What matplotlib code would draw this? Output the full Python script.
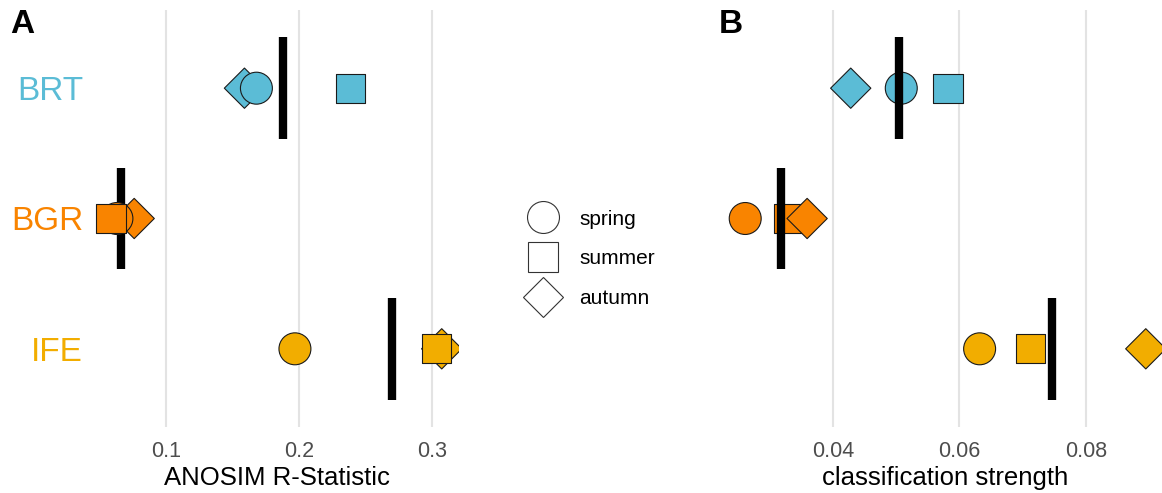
import matplotlib
matplotlib.use('Agg')
import matplotlib.pyplot as plt
from matplotlib.lines import Line2D

plt.rcParams['font.family'] = ['Liberation Sans', 'DejaVu Sans']

# Data lest av fra figuren
sites = ['BRT', 'BGR', 'IFE']
site_colors = ['#5BBCD6', '#F98400', '#F2AD00']
seasons = ['spring', 'summer', 'autumn']

anosim_spring = [0.168, 0.063, 0.197]
anosim_summer = [0.239, 0.0586, 0.3035]
anosim_autumn = [0.159, 0.076, 0.3075]
anosim_all = [0.188, 0.0657, 0.2697]

cs_spring = [0.0508, 0.0261, 0.0632]
cs_summer = [0.0582, 0.0330, 0.0713]
cs_autumn = [0.0428, 0.0359, 0.0895]
cs_all = [0.0505, 0.0317, 0.0747]

W, H = 1162, 493
fig = plt.figure(figsize=(W / 100, H / 100), dpi=100)

# akser i pikselkoordinater
axA = fig.add_axes([95 / W, (H - 427) / H, 364 / W, 417 / H])
axB = fig.add_axes([725 / W, (H - 427) / H, 441 / W, 417 / H])

ypos = [1, 2, 3]
marker_kw = dict(edgecolors='#1a1a1a', linewidths=0.8)
s_circle = 23 ** 2
s_square = 21 ** 2
s_diamond = 20.5 ** 2


def style_axis(ax, xlim, ticks, ticklabels, xlabel):
    ax.set_xlim(*xlim)
    ax.set_ylim(3.6, 0.4)
    ax.set_xticks(ticks)
    ax.set_xticklabels(ticklabels)
    ax.tick_params(axis='x', length=0, pad=10, labelsize=15.5, labelcolor='#4D4D4D')
    ax.tick_params(axis='y', length=0)
    for sp in ax.spines.values():
        sp.set_visible(False)
    ax.grid(axis='x', color='#E3E3E3', linewidth=1.5, zorder=0)
    ax.set_axisbelow(True)
    ax.set_xlabel(xlabel, fontsize=18.5, color='black', labelpad=3)


# Panel A
axA.vlines(anosim_all, [y - 0.39 for y in ypos], [y + 0.39 for y in ypos],
           color='black', linewidth=6, zorder=2)
axA.scatter(anosim_autumn, ypos, marker='D', s=s_diamond, c=site_colors, zorder=3, **marker_kw)
axA.scatter(anosim_spring, ypos, marker='o', s=s_circle, c=site_colors, zorder=4, **marker_kw)
axA.scatter(anosim_summer, ypos, marker='s', s=s_square, c=site_colors, zorder=5, **marker_kw)
style_axis(axA, (0.0465, 0.3205), [0.1, 0.2, 0.3], ['0.1', '0.2', '0.3'], 'ANOSIM R-Statistic')
axA.set_yticks(ypos)
axA.set_yticklabels(sites, fontsize=24)
axA.tick_params(axis='y', pad=8.5)
for lab, col in zip(axA.get_yticklabels(), site_colors):
    lab.set_color(col)

# Panel B
axB.scatter(cs_spring, ypos, marker='o', s=s_circle, c=site_colors, zorder=3, **marker_kw)
axB.scatter(cs_summer, ypos, marker='s', s=s_square, c=site_colors, zorder=4, **marker_kw)
axB.scatter(cs_autumn, ypos, marker='D', s=s_diamond, c=site_colors, zorder=5, **marker_kw)
axB.vlines(cs_all, [y - 0.39 for y in ypos], [y + 0.39 for y in ypos],
           color='black', linewidth=6, zorder=6)
style_axis(axB, (0.0229, 0.0927), [0.04, 0.06, 0.08], ['0.04', '0.06', '0.08'], 'classification strength')
axB.set_yticks([])

# Panelbokstaver
fig.text(10 / W, 1 - 9 / H, 'A', fontsize=24, fontweight='bold', va='top', ha='left')
fig.text(719 / W, 1 - 9 / H, 'B', fontsize=24, fontweight='bold', va='top', ha='left')

# Legende
handles = [
    Line2D([], [], linestyle='none', marker='o', markersize=23, markerfacecolor='white',
           markeredgecolor='#333333', markeredgewidth=0.8),
    Line2D([], [], linestyle='none', marker='s', markersize=21, markerfacecolor='white',
           markeredgecolor='#333333', markeredgewidth=0.8),
    Line2D([], [], linestyle='none', marker='D', markersize=20.5, markerfacecolor='white',
           markeredgecolor='#333333', markeredgewidth=0.8),
]
fig.legend(handles, seasons, loc='center left', bbox_to_anchor=(522 / W, 1 - 259 / H),
           frameon=False, fontsize=15, labelspacing=1.0, borderpad=0, borderaxespad=0,
           handlelength=2, handletextpad=0.75)

fig.savefig('out.png', dpi=100)
